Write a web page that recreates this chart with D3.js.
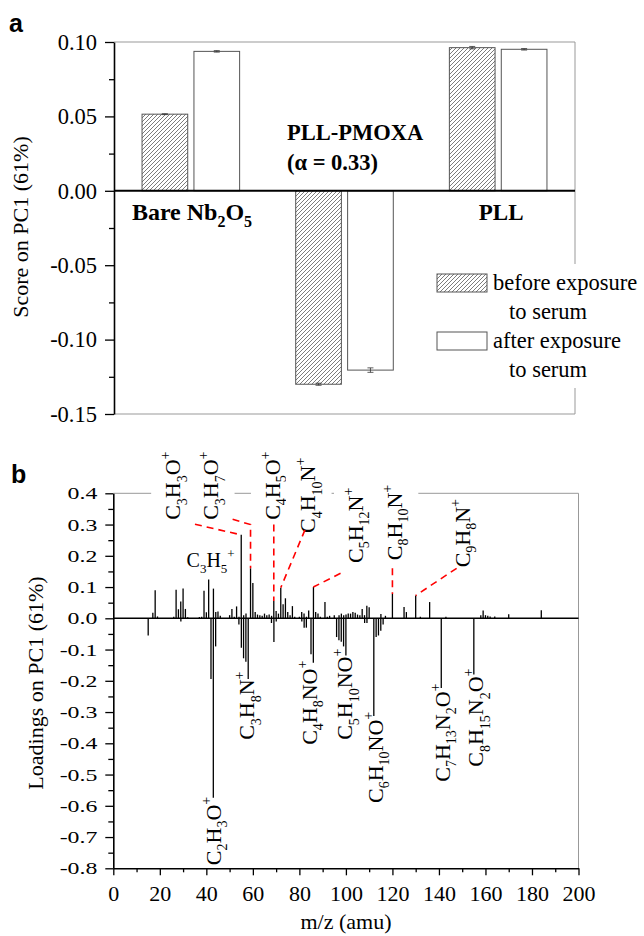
<!DOCTYPE html>
<html>
<head>
<meta charset="utf-8">
<script src="https://cdn.jsdelivr.net/npm/d3@7"></script>
<style>
  body { margin: 0; background: #fff; }
  svg text { font-family: "Liberation Serif", "Times New Roman", serif; }
  svg text.panel { font-family: "Liberation Sans", Arial, sans-serif; }
</style>
</head>
<body>
<svg id="fig" width="644" height="936"></svg>
<script>
// ---- panel a data
const samples = ["Bare", "PMOXA", "PLL"];
const conditions = ["before", "after"];
const scoreBefore = [0.0515, -0.1300, 0.0962];
const scoreAfter = [0.0937, -0.1205, 0.0951];
const errBefore = [0.0003, 0.0007, 0.0008];
const errAfter = [0.0005, 0.0015, 0.0005];
const scoreTicks = [0.10, 0.05, 0.00, -0.05, -0.10, -0.15];

// ---- panel b data (stick spectrum of PC1 loadings)
const peakMz = [15, 17, 18, 19, 26, 27, 28, 29, 29.05, 30, 31, 32, 37, 38, 39, 40, 41, 42, 43, 43.05,
  44, 44.05, 45, 46, 50, 51, 52, 53, 54, 54.05, 55, 55.05, 56, 56.05, 57, 57.05, 58, 59, 60, 61,
  62, 63, 64, 65, 66, 67, 68, 68.05, 69, 69.05, 70, 70.05, 71, 72, 73, 74, 75, 76, 77, 78,
  80, 81, 81.05, 82, 82.05, 83, 83.05, 84, 85, 86, 86.05, 87, 88, 89, 91, 92, 93, 95, 96, 97,
  97.05, 98, 98.05, 99, 99.05, 100, 100.05, 101, 102, 103, 104, 105, 106, 107, 108, 108.05, 109, 109.05,
  110, 112, 113, 114, 115, 115.05, 116, 117, 120, 125, 126, 130, 132, 136, 141, 143, 155, 158,
  159, 160, 161, 162, 164, 170, 184];
const peakLoading = [-0.055, 0.018, 0.090, 0.006, 0.005, 0.091, 0.029, 0.054, -0.010, 0.095, 0.030, 0.003, 0.004, 0.005, 0.088, 0.019, 0.124, -0.194, -0.574, 0.095,
  -0.090, 0.020, 0.022, 0.008, 0.010, 0.030, 0.005, 0.038, -0.020, 0.005, 0.267, -0.094, -0.128, 0.010, -0.139, 0.015, -0.194, 0.160, 0.113, 0.020,
  0.012, 0.010, 0.008, 0.015, 0.010, 0.012, -0.015, 0.008, 0.055, -0.076, 0.023, -0.010, 0.015, 0.098, 0.045, 0.064, 0.020, 0.010, 0.039, 0.005,
  0.005, 0.020, -0.010, 0.015, -0.030, -0.030, 0.005, 0.025, -0.115, -0.142, 0.100, 0.020, 0.015, 0.005, 0.052, 0.005, 0.008, 0.010, -0.060, -0.070,
  0.010, -0.075, 0.015, -0.090, 0.010, -0.119, 0.012, 0.015, 0.015, 0.020, 0.018, 0.012, 0.010, 0.030, 0.010, -0.015, 0.040, -0.015,
  0.035, -0.313, -0.060, -0.055, -0.040, 0.014, -0.020, 0.008, 0.078, 0.036, 0.020, 0.073, 0.005, 0.052, -0.223, 0.005, -0.180, 0.010,
  0.025, 0.010, 0.008, 0.006, 0.006, 0.013, 0.026];
const loadTicks = d3.range(0.4, -0.81, -0.1).map(d => +d.toFixed(1));
const mzTicks = d3.range(0, 201, 20);

// fragment labels: anchor and leader in data units (m/z, loading)
const upperLabels = [
  { text: "C_3H_3O^+", at: [28.7, 0.315], leader: [[35.1, 0.301], [55, 0.267]] },
  { text: "C_3H_7O^+", at: [45.0, 0.315], leader: [[51.3, 0.317], [59, 0.300], [59, 0.160]] },
  { text: "C_4H_5O^+", at: [71.6, 0.315], leader: [[69, 0.300], [69, 0.055]] },
  { text: "C_4H_10N^+", at: [86.7, 0.273], leader: [[82.4, 0.283], [72, 0.098]] },
  { text: "C_5H_12N^+", at: [107.3, 0.177], leader: [[97.7, 0.144], [86, 0.100]] },
  { text: "C_8H_10N^+", at: [124.0, 0.186], leader: [[120, 0.160], [120, 0.078]] },
  { text: "C_9H_8N^+", at: [153.3, 0.163], leader: [[147.6, 0.160], [130, 0.073]] }
];
const lowerLabels = [
  { text: "C_2H_3O^+", at: [46.2, -0.790] },
  { text: "C_3H_8N^+", at: [60.5, -0.389] },
  { text: "C_4H_8NO^+", at: [87.4, -0.405] },
  { text: "C_5H_10NO^+", at: [102.6, -0.389] },
  { text: "C_6H_10NO^+", at: [115.9, -0.591] },
  { text: "C_7H_13N_2O^+", at: [144.7, -0.523] },
  { text: "C_8H_15N_2O^+", at: [158.9, -0.475] }
];

const svg = d3.select('#fig');
const grey = '#999';

// write chemical formula with sub/superscripts
function rich(sel, str, size) {
  const small = Math.round(size * 0.65);
  let cur = 0;
  const re = /_(\d+)|\^(\+)|([^_^]+)/g;
  let m;
  while ((m = re.exec(str))) {
    let target = 0, txt, fs = size;
    if (m[1]) { target = size * 0.3; txt = m[1]; fs = small; }
    else if (m[2]) { target = -size * 0.45; txt = m[2]; fs = small; }
    else txt = m[3];
    sel.append('tspan').attr('dy', target - cur).attr('font-size', fs).text(txt);
    cur = target;
  }
  return sel;
}

// hatch pattern
svg.append('defs').append('pattern')
  .attr('id', 'hatch').attr('patternUnits', 'userSpaceOnUse')
  .attr('width', 4).attr('height', 4)
  .append('path')
  .attr('d', 'M-1,1 l2,-2 M0,4 l4,-4 M3,5 l2,-2')
  .attr('stroke', '#444').attr('stroke-width', 0.7);

// ================= panel a =================
const ya = d3.scaleLinear([-0.15, 0.10], [414, 42]);
const xa = d3.scaleBand(samples, [114, 575]).paddingInner(0.365).paddingOuter(0.1825);
const xs = d3.scaleBand(conditions, [0, xa.bandwidth()]).paddingInner(0.12);

const ga = svg.append('g');

// frame
ga.append('line').attr('x1', 114).attr('x2', 575).attr('y1', ya(0.10)).attr('y2', ya(0.10)).attr('stroke', grey);
ga.append('line').attr('x1', 114).attr('x2', 575).attr('y1', ya(-0.15)).attr('y2', ya(-0.15)).attr('stroke', grey);
ga.append('line').attr('x1', 575).attr('x2', 575).attr('y1', ya(0.10)).attr('y2', ya(-0.15)).attr('stroke', grey);

const barData = [];
samples.forEach((s, i) => {
  barData.push({ s, c: 'before', v: scoreBefore[i], e: errBefore[i] });
  barData.push({ s, c: 'after', v: scoreAfter[i], e: errAfter[i] });
});

ga.selectAll('rect.bar').data(barData).join('rect')
  .attr('class', 'bar')
  .attr('x', d => xa(d.s) + xs(d.c))
  .attr('width', xs.bandwidth())
  .attr('y', d => ya(Math.max(0, d.v)))
  .attr('height', d => Math.abs(ya(d.v) - ya(0)))
  .attr('fill', d => d.c === 'before' ? 'url(#hatch)' : '#fff')
  .attr('stroke', '#555').attr('stroke-width', 1);

// error bars
const eb = ga.selectAll('g.err').data(barData).join('g')
  .attr('transform', d => `translate(${xa(d.s) + xs(d.c) + xs.bandwidth() / 2},0)`)
  .attr('stroke', '#333').attr('stroke-width', 0.8);
eb.append('line').attr('y1', d => ya(d.v - d.e)).attr('y2', d => ya(d.v + d.e));
eb.append('line').attr('x1', -3).attr('x2', 3).attr('y1', d => ya(d.v - d.e)).attr('y2', d => ya(d.v - d.e));
eb.append('line').attr('x1', -3).attr('x2', 3).attr('y1', d => ya(d.v + d.e)).attr('y2', d => ya(d.v + d.e));

// zero line
ga.append('line').attr('x1', 114).attr('x2', 575).attr('y1', ya(0)).attr('y2', ya(0))
  .attr('stroke', '#000').attr('stroke-width', 2);

// y axis
const axA = ga.append('g').attr('transform', 'translate(114,0)')
  .call(d3.axisLeft(ya).tickValues(scoreTicks).tickFormat(d => d.toFixed(2)).tickSize(9).tickPadding(8).tickSizeOuter(0));
ga.append('g').attr('transform', 'translate(114,0)')
  .call(d3.axisLeft(ya).tickValues([0.075, 0.025, -0.025, -0.075, -0.125]).tickFormat('').tickSize(5).tickSizeOuter(0))
  .call(g => g.select('.domain').remove());
ga.selectAll('.tick line').attr('stroke-width', 1.3);
axA.select('.domain').attr('stroke-width', 1.6);
axA.selectAll('text').attr('font-size', 22.5).attr('fill', '#000');

ga.append('text').attr('transform', 'translate(28,227) rotate(-90)')
  .attr('text-anchor', 'middle').attr('font-size', 22).text('Score on PC1 (61%)');

// sample labels
rich(ga.append('text').attr('x', 192).attr('y', 220).attr('text-anchor', 'middle')
  .attr('font-weight', 'bold'), 'Bare Nb_2O_5', 24);
ga.append('text').attr('x', 287).attr('y', 140).attr('font-weight', 'bold').attr('font-size', 22.5).text('PLL-PMOXA');
ga.append('text').attr('x', 287).attr('y', 170).attr('font-weight', 'bold').attr('font-size', 22.5).text('(α = 0.33)');
ga.append('text').attr('x', xa('PLL') + xa.bandwidth() / 2 + 3).attr('y', 220).attr('text-anchor', 'middle')
  .attr('font-weight', 'bold').attr('font-size', 23).text('PLL');

// legend
const legendText = { before: ['before exposure', 'to serum'], after: ['after exposure', 'to serum'] };
const lg = ga.append('g');
lg.append('rect').attr('x', 430).attr('y', 264).attr('width', 214).attr('height', 124).attr('fill', '#fff');
conditions.forEach((c, i) => {
  const y0 = 274 + i * 58;
  lg.append('rect').attr('x', 437).attr('y', y0).attr('width', 50).attr('height', 18)
    .attr('fill', c === 'before' ? 'url(#hatch)' : '#fff').attr('stroke', '#555');
  lg.append('text').attr('x', 493).attr('y', y0 + 16).attr('font-size', 22.5).text(legendText[c][0]);
  lg.append('text').attr('x', 509).attr('y', y0 + 45).attr('font-size', 22.5).text(legendText[c][1]);
});

svg.append('text').attr('class', 'panel').attr('x', 9).attr('y', 32)
  .attr('font-weight', 'bold').attr('font-size', 25).text('a');

// ================= panel b =================
const xb = d3.scaleLinear([0, 200], [113.3, 578.5]);
const yb = d3.scaleLinear([-0.8, 0.4], [868.3, 493.3]);
const gb = svg.append('g');

// frame (top and right, grey)
gb.append('line').attr('x1', xb(0)).attr('x2', xb(200)).attr('y1', yb(0.4)).attr('y2', yb(0.4)).attr('stroke', grey);
gb.append('line').attr('x1', xb(200)).attr('x2', xb(200)).attr('y1', yb(0.4)).attr('y2', yb(-0.8)).attr('stroke', grey);

// sticks
const peaks = peakMz.map((m, i) => ({ m, v: peakLoading[i] }));
gb.selectAll('line.stick').data(peaks).join('line')
  .attr('class', 'stick')
  .attr('x1', d => xb(d.m)).attr('x2', d => xb(d.m))
  .attr('y1', yb(0)).attr('y2', d => yb(d.v))
  .attr('stroke', '#000').attr('stroke-width', 1.3);

gb.append('line').attr('x1', xb(0)).attr('x2', xb(200)).attr('y1', yb(0)).attr('y2', yb(0))
  .attr('stroke', '#000').attr('stroke-width', 1.6);

// axes
const axBy = gb.append('g').attr('transform', `translate(${xb(0)},0)`)
  .call(d3.axisLeft(yb).tickValues(loadTicks).tickFormat(d => d.toFixed(1)).tickSize(8).tickPadding(8).tickSizeOuter(0));
gb.append('g').attr('transform', `translate(${xb(0)},0)`)
  .call(d3.axisLeft(yb).tickValues(d3.range(0.35, -0.8, -0.1).map(d => +d.toFixed(2))).tickFormat('').tickSize(5).tickSizeOuter(0))
  .call(g => g.select('.domain').remove());
const axBx = gb.append('g').attr('transform', `translate(0,${yb(-0.8)})`)
  .call(d3.axisBottom(xb).tickValues(mzTicks).tickFormat(d3.format('d')).tickSize(7).tickPadding(10).tickSizeOuter(0));
gb.append('g').attr('transform', `translate(0,${yb(-0.8)})`)
  .call(d3.axisBottom(xb).tickValues(d3.range(10, 200, 20)).tickFormat('').tickSize(4).tickSizeOuter(0))
  .call(g => g.select('.domain').remove());
gb.selectAll('.tick line').attr('stroke-width', 1.3);
axBy.select('.domain').attr('stroke-width', 1.6);
axBx.select('.domain').attr('stroke-width', 1.6);
axBx.selectAll('text').attr('font-size', 22).attr('fill', '#000');
axBy.selectAll('text').attr('font-size', 17.5).attr('fill', '#000')
  .each(function () {
    this.setAttribute('textLength', this.getComputedTextLength() * 1.36);
    this.setAttribute('lengthAdjust', 'spacingAndGlyphs');
  });

gb.append('text').attr('transform', 'translate(43,683) rotate(-90)')
  .attr('text-anchor', 'middle').attr('font-size', 22).text('Loadings on PC1 (61%)');
gb.append('text').attr('x', 346).attr('y', 929).attr('text-anchor', 'middle')
  .attr('font-size', 22).text('m/z (amu)');

// upper fragment labels with white boxes that break the top frame
const ul = gb.selectAll('g.ulab').data(upperLabels).join('g')
  .attr('transform', d => `translate(${xb(d.at[0])},${yb(d.at[1])}) rotate(-90)`);
ul.each(function (d) { rich(d3.select(this).append('text'), d.text, 22); });
ul.each(function () {
  const b = this.getBBox();
  d3.select(this).insert('rect', 'text')
    .attr('x', b.x - 3).attr('y', b.y - 7).attr('width', b.width + 6).attr('height', b.height + 14)
    .attr('fill', '#fff');
});

// leaders
gb.selectAll('path.leader').data(upperLabels).join('path')
  .attr('d', d => d3.line().x(p => xb(p[0])).y(p => yb(p[1]))(d.leader))
  .attr('fill', 'none').attr('stroke', '#f00').attr('stroke-width', 1.6).attr('stroke-dasharray', '7,5');

// C3H5+ horizontal label
rich(gb.append('text').attr('x', xb(31.5)).attr('y', yb(0.165)), 'C_3H_5^+', 20);

// lower fragment labels
gb.selectAll('g.llab').data(lowerLabels).join('g')
  .attr('transform', d => `translate(${xb(d.at[0])},${yb(d.at[1])}) rotate(-90)`)
  .each(function (d) { rich(d3.select(this).append('text'), d.text, 22); });

svg.append('text').attr('class', 'panel').attr('x', 11).attr('y', 483)
  .attr('font-weight', 'bold').attr('font-size', 25).text('b');
</script>
</body>
</html>
